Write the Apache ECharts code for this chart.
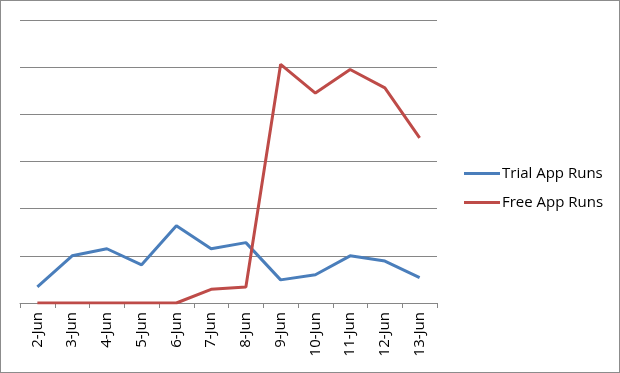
<!DOCTYPE html>
<html><head><meta charset="utf-8">
<script src="https://cdn.jsdelivr.net/npm/echarts@6/dist/echarts.min.js"></script>
<style>html,body{margin:0;padding:0;background:#fff}#c{width:620px;height:373px;box-sizing:border-box;border:1px solid #8c8c8c}</style>
</head><body><div id="c"></div>
<script>
const categories = ['2-Jun','3-Jun','4-Jun','5-Jun','6-Jun','7-Jun','8-Jun','9-Jun','10-Jun','11-Jun','12-Jun','13-Jun'];
const trialRuns = [0.34, 1.0, 1.15, 0.81, 1.64, 1.15, 1.28, 0.49, 0.6, 1.0, 0.89, 0.54];
const freeRuns = [0, 0, 0, 0, 0, 0.29, 0.34, 5.06, 4.45, 4.95, 4.56, 3.5];
const seriesNames = ['Trial App Runs', 'Free App Runs'];

const chart = echarts.init(document.getElementById('c'), null, {renderer: 'canvas'});
chart.setOption({
  animation: false,
  grid: {left: 19, right: 182, top: 19, bottom: 69},
  legend: {
    orient: 'vertical', left: 458, top: 160, itemGap: 14,
    itemWidth: 36, itemHeight: 3, icon: 'rect',
    textStyle: {fontFamily: 'Open Sans', fontSize: 15, color: '#000', padding: [0,0,0,-3]},
    data: seriesNames
  },
  xAxis: {
    type: 'category', data: categories, boundaryGap: true,
    axisLine: {lineStyle: {color: '#868686', width: 1}},
    axisTick: {show: true, length: 5, lineStyle: {color: '#868686'}},
    axisLabel: {rotate: 90, color: '#000', fontFamily: 'Open Sans', fontSize: 15, margin: 9}
  },
  yAxis: {
    type: 'value', min: 0, max: 6, interval: 1,
    axisLabel: {show: false}, axisLine: {show: false}, axisTick: {show: false},
    splitLine: {lineStyle: {color: '#868686', width: 1}}
  },
  series: [
    {name: seriesNames[0], type: 'line', data: trialRuns, symbol: 'none', lineStyle: {color: '#4A7EBB', width: 3}, itemStyle: {color: '#4A7EBB'}},
    {name: seriesNames[1], type: 'line', data: freeRuns, symbol: 'none', lineStyle: {color: '#BE4B48', width: 3}, itemStyle: {color: '#BE4B48'}}
  ]
});
</script></body></html>
